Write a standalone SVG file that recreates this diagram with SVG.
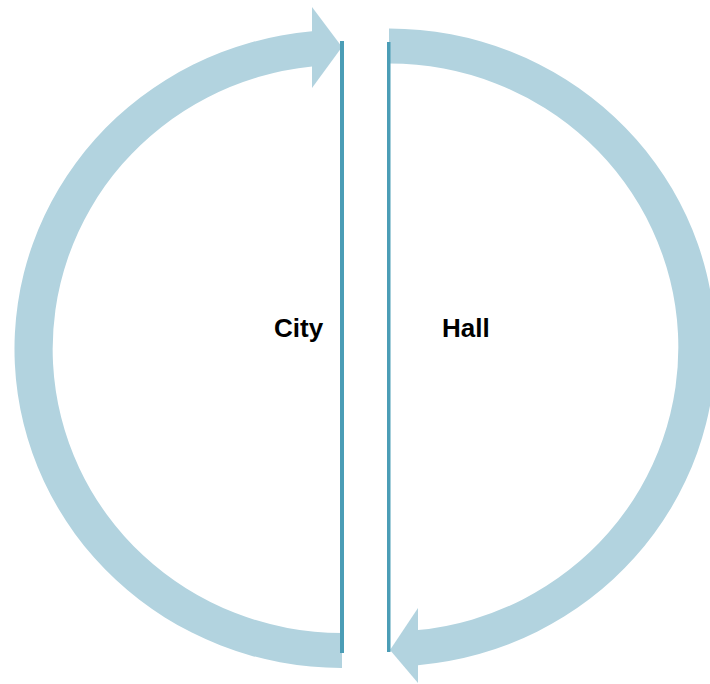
<svg xmlns="http://www.w3.org/2000/svg" width="710" height="684" viewBox="0 0 710 684">
<style>
.arrow{fill:#b2d3df}
.bar{fill:#4b9db6}
.lbl{font-family:"Liberation Sans",Arial,sans-serif;font-weight:bold;font-size:26px;fill:#000}
</style>
<rect width="710" height="684" fill="#fff"/>
<g id="connectors">
<g id="left-arrow">
<path class="arrow" d="M312,31.3 A327,319 0 0 0 342,668 L342,633 A289,284 0 0 1 312,66.5 Z"/>
<path class="arrow" d="M312,7 L342,47 L312,88 Z"/>
</g>
<g id="right-arrow">
<path class="arrow" d="M389,28.5 A327,319 0 0 1 418,665.2 L418,630.1 A289,284 0 0 0 389,63.5 Z"/>
<path class="arrow" d="M418,608 L390,650 L418,683 Z"/>
</g>
</g>
<g id="city">
<rect class="bar" x="340" y="41" width="4" height="612"/>
<text class="lbl" x="274" y="337">City</text>
</g>
<g id="hall">
<rect class="bar" x="387" y="42" width="3.5" height="610"/>
<text class="lbl" x="442" y="337">Hall</text>
</g>
</svg>
